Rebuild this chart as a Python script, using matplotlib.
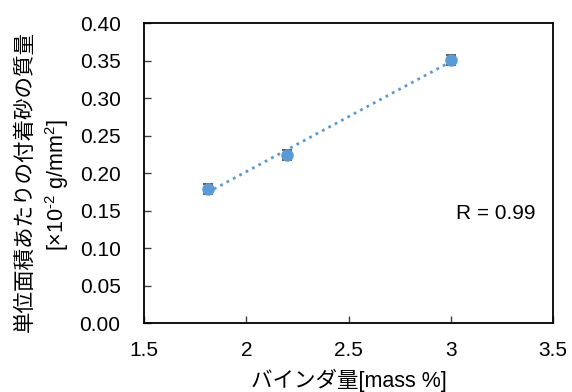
import numpy as np
import matplotlib.pyplot as plt

plt.rcParams['font.family'] = ['Liberation Sans', 'Noto Sans CJK JP', 'DejaVu Sans']
plt.rcParams['mathtext.fontset'] = 'custom'
plt.rcParams['mathtext.rm'] = 'Liberation Sans'
plt.rcParams['mathtext.default'] = 'regular'

# data
binder = [1.81, 2.20, 3.00]            # mass %
sand_mass = [0.179, 0.224, 0.351]      # x10^-2 g/mm^2
sand_err = [0.007, 0.0065, 0.0065]
r_value = 0.99

x_ticks = [1.5, 2, 2.5, 3, 3.5]
x_tick_labels = ['1.5', '2', '2.5', '3', '3.5']
y_ticks = np.arange(0, 0.401, 0.05)

blue = '#5B9BD5'

fig = plt.figure(figsize=(5.72, 3.92), dpi=100)
ax = fig.add_axes([0.252, 0.176, 0.715, 0.765])

# linear trend line over the data range
coef = np.polyfit(binder, sand_mass, 1)
xs = np.array([min(binder), max(binder)])
ax.plot(xs, np.polyval(coef, xs), ls=(0, (1, 1.6)), color=blue, lw=2, zorder=2)

ax.errorbar(binder, sand_mass, yerr=sand_err, fmt='o', color=blue, ms=8,
            ecolor='#595959', elinewidth=1.2, capsize=3.5, capthick=1.4, zorder=3)

ax.text(3.22, 0.146, f'R = {r_value:.2f}', fontsize=15, ha='center', va='center')

ax.set_xlim(1.5, 3.5)
ax.set_ylim(0, 0.40)
ax.set_xticks(x_ticks)
ax.set_xticklabels(x_tick_labels)
ax.set_yticks(y_ticks)
ax.set_yticklabels([f'{v:.2f}' for v in y_ticks])
ax.tick_params(direction='in', length=5, width=1, labelsize=15, color='#404040')
ax.tick_params(axis='x', pad=13)
ax.tick_params(axis='y', pad=17)
for s in ax.spines.values():
    s.set_linewidth(1.3)
    s.set_color('black')

ax.set_xlabel('バインダ量[mass %]', fontsize=15.5, labelpad=6)
fig.text(0.044, 0.538, '単位面積あたりの付着砂の質量', rotation=90, fontsize=15.5,
         ha='center', va='center')
fig.text(0.1, 0.528, r'[×10$^{\text{-2}}$ g/mm$^{2}$]', rotation=90, fontsize=15.5,
         ha='center', va='center')

fig.savefig('out.png', dpi=100)
